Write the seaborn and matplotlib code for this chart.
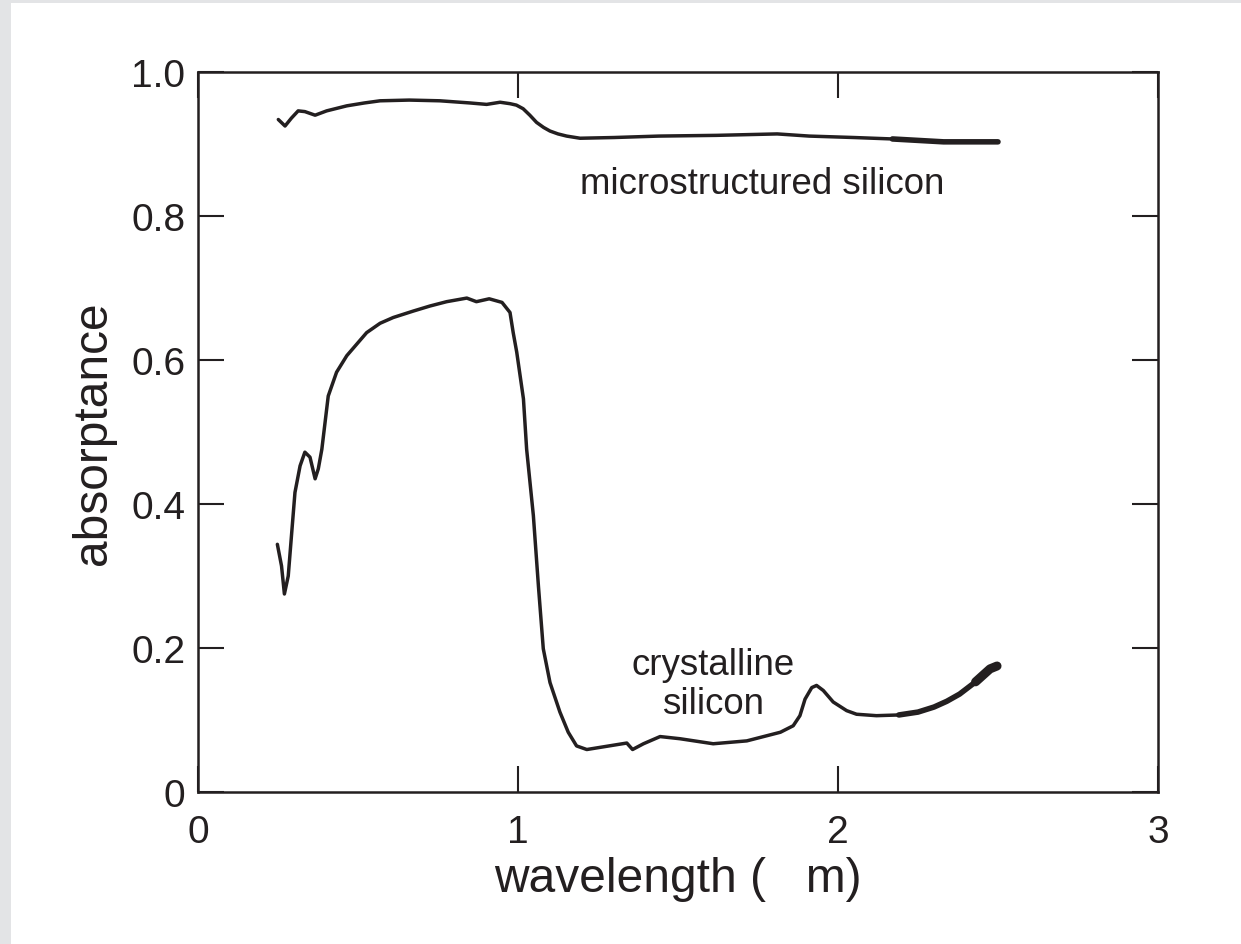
import matplotlib
matplotlib.use("Agg")
import matplotlib.pyplot as plt
from matplotlib.patches import Rectangle
import seaborn as sns
import pandas as pd

# ---- data ----
micro_x = [0.251, 0.272, 0.292, 0.313, 0.334, 0.366, 0.402, 0.465, 0.52, 0.569,
           0.66, 0.756, 0.85, 0.902, 0.944, 0.975, 0.995, 1.016, 1.037, 1.058,
           1.08, 1.10, 1.125, 1.152, 1.194, 1.30, 1.44, 1.62, 1.81, 1.91,
           2.05, 2.17, 2.33, 2.5]
micro_y = [0.934, 0.925, 0.936, 0.946, 0.945, 0.940, 0.946, 0.953, 0.957, 0.960,
           0.961, 0.960, 0.957, 0.955, 0.958, 0.956, 0.954, 0.949, 0.940, 0.930,
           0.923, 0.918, 0.914, 0.911, 0.908, 0.909, 0.911, 0.912, 0.914, 0.911,
           0.909, 0.907, 0.903, 0.903]

cryst_x = [0.248, 0.261, 0.27, 0.282, 0.293, 0.303, 0.319, 0.334, 0.35, 0.366,
           0.376, 0.387, 0.407, 0.433, 0.465, 0.496, 0.527, 0.569, 0.61, 0.673,
           0.725, 0.777, 0.84, 0.87, 0.91, 0.95, 0.975, 0.985, 0.996, 1.017,
           1.027, 1.048, 1.064, 1.079, 1.10, 1.131, 1.157, 1.183, 1.215, 1.34,
           1.358, 1.392, 1.444, 1.506, 1.61, 1.715, 1.82, 1.86, 1.881, 1.897,
           1.918, 1.933, 1.954, 1.985, 2.027, 2.058, 2.12, 2.19, 2.25, 2.30,
           2.34, 2.38, 2.43, 2.475, 2.497]
cryst_y = [0.344, 0.314, 0.275, 0.300, 0.361, 0.416, 0.453, 0.472, 0.465, 0.435,
           0.449, 0.476, 0.550, 0.583, 0.606, 0.622, 0.638, 0.651, 0.659, 0.668,
           0.675, 0.681, 0.686, 0.681, 0.685, 0.680, 0.666, 0.638, 0.611, 0.546,
           0.476, 0.384, 0.285, 0.199, 0.152, 0.111, 0.083, 0.064, 0.059, 0.068,
           0.059, 0.067, 0.077, 0.074, 0.067, 0.071, 0.083, 0.092, 0.106, 0.129,
           0.145, 0.148, 0.141, 0.125, 0.113, 0.108, 0.106, 0.107, 0.111, 0.118,
           0.126, 0.136, 0.153, 0.171, 0.175]

x_ticks = [0, 1, 2, 3]
y_ticks = [0, 0.2, 0.4, 0.6, 0.8, 1.0]
y_tick_labels = ["0", "0.2", "0.4", "0.6", "0.8", "1.0"]
x_label = "wavelength (   m)"
y_label = "absorptance"
label_micro = "microstructured silicon"
label_cryst = "crystalline\nsilicon"

# ---- styling ----
sns.set_theme(style="white")
plt.rcParams["font.family"] = ["Liberation Sans", "DejaVu Sans"]
INK = "#231f20"

micro = pd.DataFrame({"x": micro_x, "y": micro_y})
cryst = pd.DataFrame({"x": cryst_x, "y": cryst_y})

fig = plt.figure(figsize=(12.41, 9.45), dpi=100)
fig.patch.set_facecolor("white")
# light grey frame strips (left and top) as in the reference
fig.patches.append(Rectangle((0, 0), 11 / 1241, 1, transform=fig.transFigure,
                             facecolor="#e3e4e6", edgecolor="none", zorder=0))
fig.patches.append(Rectangle((0, 1 - 4 / 945), 1, 4 / 945, transform=fig.transFigure,
                             facecolor="#e3e4e6", edgecolor="none", zorder=0))

ax = fig.add_axes([198 / 1241, 1 - 793 / 945, (1158 - 198) / 1241, (793 - 73) / 945])

LW = 2.5
for df in (micro, cryst):
    line = sns.lineplot(data=df, x="x", y="y", ax=ax, sort=False, estimator=None,
                        color=INK, linewidth=LW)
for l in ax.lines:
    l.set_solid_joinstyle("round")
    l.set_solid_capstyle("round")
# noisy tail of the measurements drawn thicker
for df in (micro, cryst):
    sns.lineplot(data=df[df.x >= 2.17], x="x", y="y", ax=ax, sort=False,
                 estimator=None, color=INK, linewidth=4)
    sns.lineplot(data=df[df.x >= 2.4], x="x", y="y", ax=ax, sort=False,
                 estimator=None, color=INK, linewidth=6.5)

ax.set_xlim(0, 3)
ax.set_ylim(0, 1.0)
ax.set_xticks(x_ticks)
ax.set_xticklabels([str(t) for t in x_ticks])
ax.set_yticks(y_ticks)
ax.set_yticklabels(y_tick_labels)

for s in ax.spines.values():
    s.set_visible(True)
    s.set_color(INK)
    s.set_linewidth(1.8)

ax.tick_params(axis="both", which="major", direction="in", length=18.5,
               width=1.5, color=INK, labelsize=28, labelcolor=INK,
               top=True, right=True, bottom=True, left=True)
ax.tick_params(axis="x", pad=16)
ax.tick_params(axis="y", pad=9)

ax.set_xlabel(x_label, fontsize=34.5, color=INK, labelpad=4)
ax.set_ylabel(y_label, fontsize=34.5, color=INK, labelpad=11)

ax.text(1.7625, 0.845, label_micro, fontsize=26.4, color=INK,
        ha="center", va="center")
ax.text(1.61, 0.15, label_cryst, fontsize=26.4, color=INK,
        ha="center", va="center", linespacing=1.15)

fig.savefig("out.png", dpi=100, facecolor=fig.get_facecolor())
